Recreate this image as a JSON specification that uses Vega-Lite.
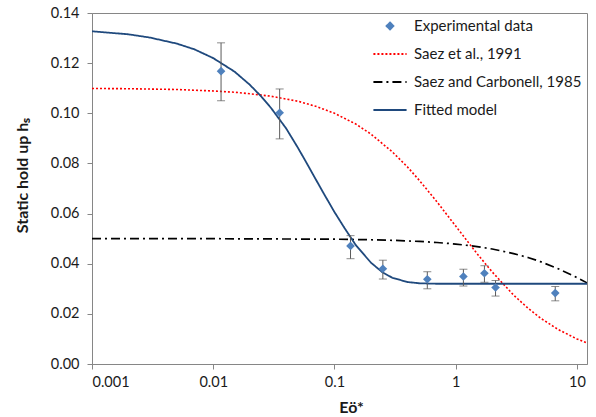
{
  "$schema": "https://vega.github.io/schema/vega-lite/v6.json",
  "width": 495,
  "height": 351,
  "autosize": {"type": "none"},
  "padding": {"left": 92, "top": 13, "right": 9, "bottom": 53},
  "config": {
    "font": "Lato",
    "view": {"stroke": "#868686", "strokeWidth": 1},
    "axis": {"grid": false, "domainColor": "#868686", "tickColor": "#868686", "labelColor": "#1a1a1a", "labelFontSize": 14.5, "labelFont": "Lato", "titleFont": "Lato", "titleFontSize": 16, "titleFontWeight": "bold", "titleColor": "#1a1a1a", "tickSize": 5}
  },
  "datasets": {
    "exp": [
      {"series": "Experimental data", "x": 0.0116, "y": 0.1168, "lo": 0.105, "hi": 0.1281},
      {"series": "Experimental data", "x": 0.0353, "y": 0.1002, "lo": 0.0898, "hi": 0.1097},
      {"series": "Experimental data", "x": 0.1356, "y": 0.0471, "lo": 0.042, "hi": 0.0512},
      {"series": "Experimental data", "x": 0.2506, "y": 0.038, "lo": 0.0339, "hi": 0.0414},
      {"series": "Experimental data", "x": 0.583, "y": 0.0338, "lo": 0.030, "hi": 0.0368},
      {"series": "Experimental data", "x": 1.157, "y": 0.0349, "lo": 0.0311, "hi": 0.0378},
      {"series": "Experimental data", "x": 1.725, "y": 0.0362, "lo": 0.0326, "hi": 0.0392},
      {"series": "Experimental data", "x": 2.13, "y": 0.0305, "lo": 0.0271, "hi": 0.0333},
      {"series": "Experimental data", "x": 6.62, "y": 0.0283, "lo": 0.0252, "hi": 0.0309}
    ],
    "curves": [
      {"series": "Saez et al., 1991", "x": 0.001, "y": 0.1099},
      {"series": "Saez et al., 1991", "x": 0.002, "y": 0.1098},
      {"series": "Saez et al., 1991", "x": 0.005, "y": 0.1095},
      {"series": "Saez et al., 1991", "x": 0.01, "y": 0.1089},
      {"series": "Saez et al., 1991", "x": 0.015, "y": 0.1084},
      {"series": "Saez et al., 1991", "x": 0.02, "y": 0.1078},
      {"series": "Saez et al., 1991", "x": 0.03, "y": 0.1068},
      {"series": "Saez et al., 1991", "x": 0.05, "y": 0.1048},
      {"series": "Saez et al., 1991", "x": 0.07, "y": 0.1028},
      {"series": "Saez et al., 1991", "x": 0.1, "y": 0.1},
      {"series": "Saez et al., 1991", "x": 0.15, "y": 0.0957},
      {"series": "Saez et al., 1991", "x": 0.2, "y": 0.0917},
      {"series": "Saez et al., 1991", "x": 0.3, "y": 0.0846},
      {"series": "Saez et al., 1991", "x": 0.4, "y": 0.0786},
      {"series": "Saez et al., 1991", "x": 0.5, "y": 0.0733},
      {"series": "Saez et al., 1991", "x": 0.7, "y": 0.0647},
      {"series": "Saez et al., 1991", "x": 1, "y": 0.055},
      {"series": "Saez et al., 1991", "x": 1.5, "y": 0.044},
      {"series": "Saez et al., 1991", "x": 2, "y": 0.0367},
      {"series": "Saez et al., 1991", "x": 3, "y": 0.0275},
      {"series": "Saez et al., 1991", "x": 4, "y": 0.022},
      {"series": "Saez et al., 1991", "x": 5, "y": 0.0183},
      {"series": "Saez et al., 1991", "x": 7, "y": 0.01375},
      {"series": "Saez et al., 1991", "x": 10, "y": 0.01},
      {"series": "Saez et al., 1991", "x": 12.1, "y": 0.0084},
      {"series": "Saez and Carbonell, 1985", "x": 0.001, "y": 0.05},
      {"series": "Saez and Carbonell, 1985", "x": 0.01, "y": 0.04998},
      {"series": "Saez and Carbonell, 1985", "x": 0.1, "y": 0.04978},
      {"series": "Saez and Carbonell, 1985", "x": 0.2, "y": 0.04955},
      {"series": "Saez and Carbonell, 1985", "x": 0.3, "y": 0.04933},
      {"series": "Saez and Carbonell, 1985", "x": 0.5, "y": 0.0489},
      {"series": "Saez and Carbonell, 1985", "x": 0.7, "y": 0.04847},
      {"series": "Saez and Carbonell, 1985", "x": 1, "y": 0.04785},
      {"series": "Saez and Carbonell, 1985", "x": 1.5, "y": 0.04684},
      {"series": "Saez and Carbonell, 1985", "x": 2, "y": 0.04587},
      {"series": "Saez and Carbonell, 1985", "x": 3, "y": 0.04405},
      {"series": "Saez and Carbonell, 1985", "x": 4, "y": 0.0424},
      {"series": "Saez and Carbonell, 1985", "x": 5, "y": 0.04082},
      {"series": "Saez and Carbonell, 1985", "x": 7, "y": 0.03802},
      {"series": "Saez and Carbonell, 1985", "x": 10, "y": 0.03448},
      {"series": "Saez and Carbonell, 1985", "x": 12.1, "y": 0.03237},
      {"series": "Fitted model", "x": 0.001, "y": 0.1327},
      {"series": "Fitted model", "x": 0.002, "y": 0.1315},
      {"series": "Fitted model", "x": 0.003, "y": 0.1302},
      {"series": "Fitted model", "x": 0.005, "y": 0.1278},
      {"series": "Fitted model", "x": 0.007, "y": 0.1255},
      {"series": "Fitted model", "x": 0.01, "y": 0.122},
      {"series": "Fitted model", "x": 0.015, "y": 0.1166},
      {"series": "Fitted model", "x": 0.02, "y": 0.1114},
      {"series": "Fitted model", "x": 0.025, "y": 0.1066},
      {"series": "Fitted model", "x": 0.03, "y": 0.1021},
      {"series": "Fitted model", "x": 0.04, "y": 0.0939},
      {"series": "Fitted model", "x": 0.05, "y": 0.0862},
      {"series": "Fitted model", "x": 0.06, "y": 0.0795},
      {"series": "Fitted model", "x": 0.07, "y": 0.0737},
      {"series": "Fitted model", "x": 0.08, "y": 0.0687},
      {"series": "Fitted model", "x": 0.1, "y": 0.0606},
      {"series": "Fitted model", "x": 0.12, "y": 0.0545},
      {"series": "Fitted model", "x": 0.15, "y": 0.0474},
      {"series": "Fitted model", "x": 0.2, "y": 0.0404},
      {"series": "Fitted model", "x": 0.25, "y": 0.0365},
      {"series": "Fitted model", "x": 0.3, "y": 0.0344},
      {"series": "Fitted model", "x": 0.4, "y": 0.0327},
      {"series": "Fitted model", "x": 0.5, "y": 0.0322},
      {"series": "Fitted model", "x": 0.7, "y": 0.032},
      {"series": "Fitted model", "x": 1, "y": 0.032},
      {"series": "Fitted model", "x": 12.1, "y": 0.032}
    ]
  },
  "layer": [
    {
      "data": {"name": "curves"},
      "mark": {"type": "line", "clip": true},
      "encoding": {
        "x": {"field": "x", "type": "quantitative", "scale": {"type": "log", "domain": [0.001, 12.1], "nice": false},
          "axis": {"values": [0.001, 0.01, 0.1, 1, 10], "format": "~g", "title": "Eö*", "labelPadding": 6, "titleX": 259, "titleY": 48, "titleBaseline": "alphabetic", "titleAnchor": "middle"}},
        "y": {"field": "y", "type": "quantitative", "scale": {"domain": [0, 0.14], "nice": false},
          "axis": {"values": [0, 0.02, 0.04, 0.06, 0.08, 0.1, 0.12, 0.14], "format": ".2f", "title": "Static hold up hₛ", "labelPadding": 8, "titleX": -65, "titleY": 162, "titleBaseline": "alphabetic", "titleAngle": -90, "titleAlign": "center"}},
        "color": {"field": "series", "type": "nominal",
          "scale": {"domain": ["Experimental data", "Saez et al., 1991", "Saez and Carbonell, 1985", "Fitted model"], "range": ["#4F81BD", "#FF0000", "#000000", "#1F497D"]},
          "legend": {
            "title": null, "orient": "none", "legendX": 280, "legendY": -5,
            "labelFontSize": 15, "labelColor": "#1a1a1a", "labelFont": "Lato", "labelOffset": 6, "rowPadding": 2, "labelLimit": 400,
            "symbolSize": 1100,
            "encode": {"symbols": {"update": {
              "shape": {"signal": "datum.value === 'Experimental data' ? 'diamond' : 'stroke'"},
              "size": {"signal": "datum.value === 'Experimental data' ? 45 : 1100"},
              "fill": {"signal": "datum.value === 'Experimental data' ? '#4F81BD' : 'transparent'"},
              "stroke": {"signal": "datum.value === 'Experimental data' ? 'transparent' : datum.value === 'Saez et al., 1991' ? '#FF0000' : datum.value === 'Saez and Carbonell, 1985' ? '#000000' : '#1F497D'"},
              "strokeDash": {"signal": "datum.value === 'Saez et al., 1991' ? [2, 2] : datum.value === 'Saez and Carbonell, 1985' ? [9, 4, 2, 4] : [1, 0]"},
              "strokeWidth": {"value": 2},
              "opacity": {"value": 1}
            }}}
          }},
        "strokeDash": {"field": "series", "type": "nominal", "legend": null,
          "scale": {"domain": ["Saez et al., 1991", "Saez and Carbonell, 1985", "Fitted model"], "range": [[2, 2], [9, 4, 2, 4], [1, 0]]}},
        "strokeWidth": {"field": "series", "type": "nominal", "legend": null,
          "scale": {"domain": ["Saez et al., 1991", "Saez and Carbonell, 1985", "Fitted model"], "range": [1.6, 1.8, 2]}}
      }
    },
    {
      "data": {"name": "exp"},
      "mark": {"type": "rule", "color": "#5a5a5a", "strokeWidth": 1},
      "encoding": {
        "x": {"field": "x", "type": "quantitative"},
        "y": {"field": "lo", "type": "quantitative"},
        "y2": {"field": "hi"}
      }
    },
    {
      "data": {"name": "exp"},
      "mark": {"type": "tick", "color": "#5a5a5a", "orient": "horizontal", "size": 8, "thickness": 1},
      "encoding": {
        "x": {"field": "x", "type": "quantitative"},
        "y": {"field": "lo", "type": "quantitative"}
      }
    },
    {
      "data": {"name": "exp"},
      "mark": {"type": "tick", "color": "#5a5a5a", "orient": "horizontal", "size": 8, "thickness": 1},
      "encoding": {
        "x": {"field": "x", "type": "quantitative"},
        "y": {"field": "hi", "type": "quantitative"}
      }
    },
    {
      "data": {"name": "exp"},
      "mark": {"type": "point", "shape": "diamond", "filled": true, "size": 75, "opacity": 1},
      "encoding": {
        "x": {"field": "x", "type": "quantitative"},
        "y": {"field": "y", "type": "quantitative"},
        "color": {"field": "series", "type": "nominal"}
      }
    }
  ]
}
